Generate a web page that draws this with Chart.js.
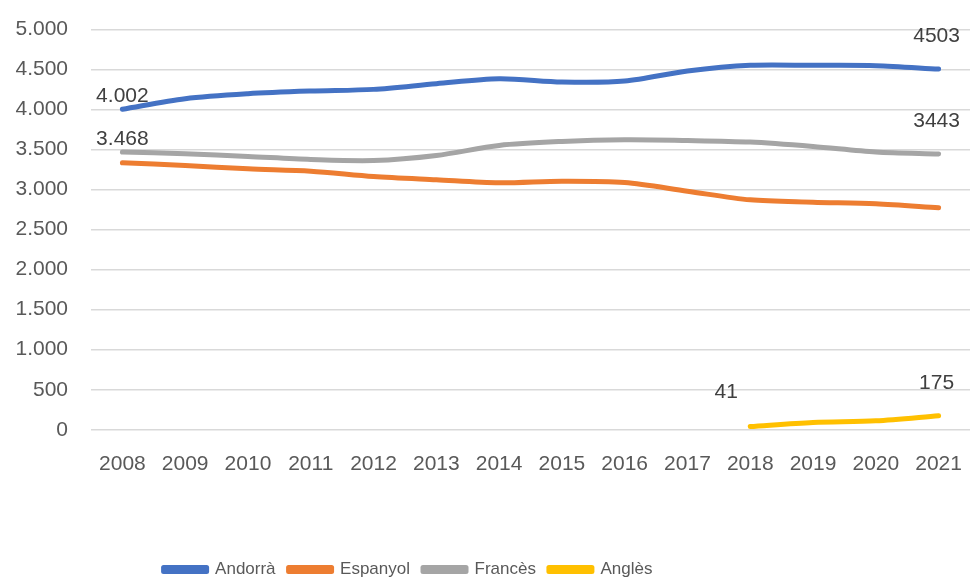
<!DOCTYPE html>
<html>
<head>
<meta charset="utf-8">
<script src="https://cdn.jsdelivr.net/npm/chart.js@4"></script>
<style>
  html, body { margin: 0; padding: 0; background: #fff; }
  #wrap { width: 979px; height: 585px; }
</style>
</head>
<body>
<div id="wrap"><canvas id="chart" width="979" height="585"></canvas></div>
<script>
// Data
const years = ['2008', '2009', '2010', '2011', '2012', '2013', '2014', '2015', '2016', '2017', '2018', '2019', '2020', '2021'];
const andorra = [4002, 4134, 4196, 4229, 4250, 4321, 4383, 4342, 4354, 4479, 4550, 4550, 4546, 4503];
const espanyol = [3333, 3300, 3258, 3229, 3162, 3121, 3083, 3104, 3087, 2979, 2871, 2842, 2821, 2771];
const frances = [3468, 3446, 3412, 3375, 3362, 3425, 3550, 3600, 3621, 3612, 3592, 3537, 3467, 3443];
const angles = [null, null, null, null, null, null, null, null, null, null, 41, 92, 112, 175];
const yTicks = [0, 500, 1000, 1500, 2000, 2500, 3000, 3500, 4000, 4500, 5000];

// Point labels: [dataset, point index, text]
const pointLabels = [
  [0, 0, '4.002'],
  [2, 0, '3.468'],
  [0, 13, '4503'],
  [2, 13, '3443'],
  [3, 10, '41'],
  [3, 13, '175']
];

const fontFamily = '"Liberation Sans", Arial, sans-serif';
const tickColor = '#595959';

function fmt(v) {
  return String(v).replace(/\B(?=(\d{3})+(?!\d))/g, '.');
}

// Draw point value labels
const pointLabelPlugin = {
  id: 'pointLabels',
  afterDatasetsDraw(chart) {
    const ctx = chart.ctx;
    ctx.save();
    ctx.font = '21px ' + fontFamily;
    ctx.fillStyle = '#404040';
    ctx.textAlign = 'center';
    ctx.textBaseline = 'middle';
    pointLabels.forEach(([ds, idx, text]) => {
      const pt = chart.getDatasetMeta(ds).data[idx];
      if (!pt) return;
      // first-year labels sit close, the others higher up (as in the original)
      let dx = 0, dy = -13;
      if (idx === 13) { dx = -2; dy = -33; }
      if (ds === 3 && idx === 10) { dx = -24; dy = -34; }
      ctx.fillText(text, pt.x + dx, pt.y + dy);
    });
    ctx.restore();
  }
};

// The legend in the original sits left of centre
const legendShift = {
  id: 'legendShift',
  afterLayout(chart) {
    if (!chart.legend) return;
    chart.legend.left -= 77;
    chart.legend.right -= 77;
  }
};

function line(label, data, color) {
  return {
    label: label,
    data: data,
    borderColor: color,
    backgroundColor: color,
    borderWidth: 5,
    pointRadius: 0,
    pointHoverRadius: 0,
    tension: 0.3,
    borderCapStyle: 'round',
    borderJoinStyle: 'round',
    spanGaps: false
  };
}

new Chart(document.getElementById('chart'), {
  type: 'line',
  data: {
    labels: years,
    datasets: [
      line('Andorrà', andorra, '#4472c4'),
      line('Espanyol', espanyol, '#ed7d31'),
      line('Francès', frances, '#a5a5a5'),
      line('Anglès', angles, '#ffc000')
    ]
  },
  options: {
    responsive: false,
    animation: false,
    layout: { padding: { top: 7, right: 9, left: 0, bottom: -3 } },
    plugins: {
      legend: {
        position: 'bottom',
        labels: {
          boxWidth: 43,
          boxHeight: 4,
          padding: 13,
          color: tickColor,
          font: { family: fontFamily, size: 17 }
        }
      },
      tooltip: { enabled: false }
    },
    scales: {
      x: {
        offset: true,
        grid: { display: false, drawTicks: false },
        border: { display: false },
        ticks: {
          color: tickColor,
          padding: 22,
          maxRotation: 0,
          font: { family: fontFamily, size: 21 }
        },
        afterFit(scale) {
          scale.height += 49;
          // labels fit inside the category offset, no side padding needed
          scale.paddingLeft = 0;
          scale.paddingRight = 0;
        }
      },
      y: {
        min: 0,
        max: 5000,
        afterBuildTicks(scale) { scale.ticks = yTicks.map(v => ({ value: v })); },
        afterFit(scale) { scale.width = 91; },
        grid: { color: '#d9d9d9', lineWidth: 1.5, drawTicks: false },
        border: { display: false },
        ticks: {
          color: tickColor,
          padding: 23,
          font: { family: fontFamily, size: 21, lineHeight: 0.6 },
          callback: v => fmt(v)
        }
      }
    }
  },
  plugins: [pointLabelPlugin, legendShift]
});
</script>
</body>
</html>
